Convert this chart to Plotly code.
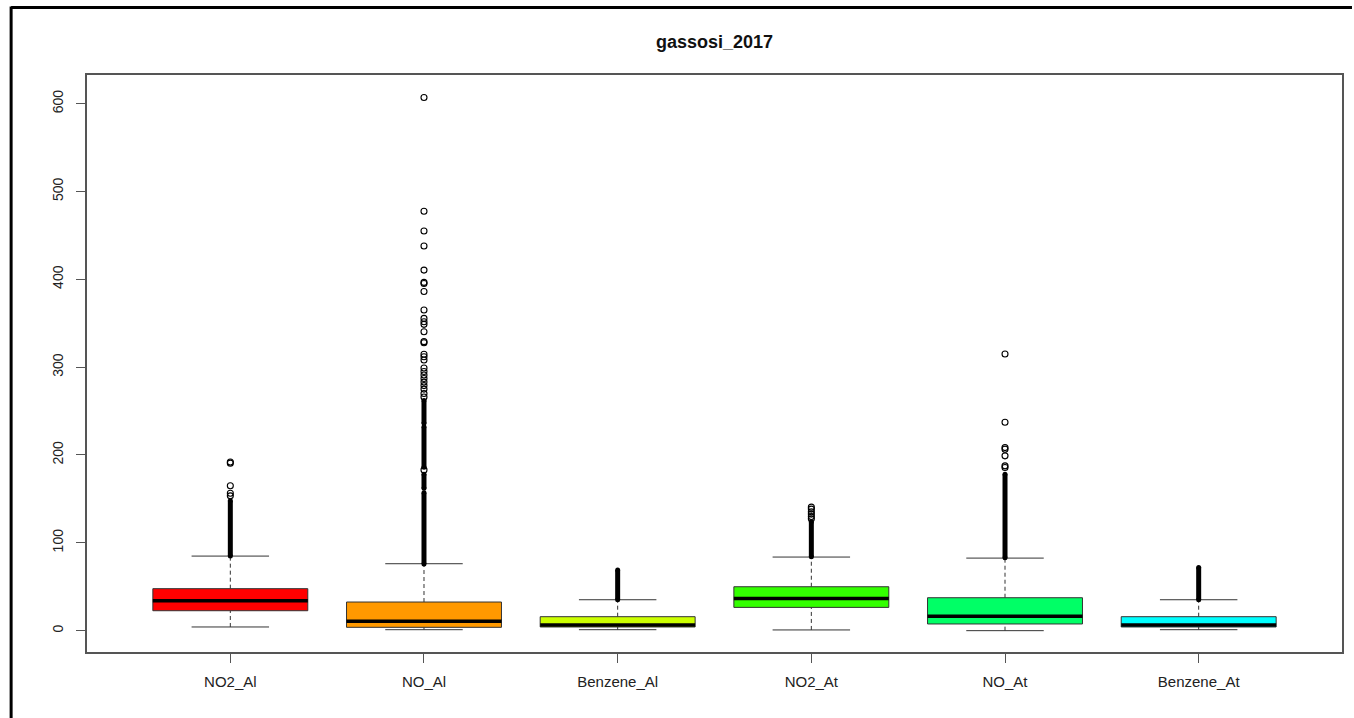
import plotly.graph_objects as go

# Summary statistics per station / pollutant (gassosi 2017)
categories = ["NO2_Al", "NO_Al", "Benzene_Al", "NO2_At", "NO_At", "Benzene_At"]
colors = ["#FF0000", "#FF9900", "#CCFF00", "#33FF00", "#00FF66", "#00FFFF"]

lower_whisker = [4.2, 1.1, 1.1, 0.8, 0.0, 1.1]
q1 = [22.7, 3.8, 4.2, 26.5, 7.6, 4.2]
median = [34.1, 10.6, 6.5, 36.7, 16.3, 6.5]
q3 = [47.8, 32.6, 15.9, 50.0, 37.5, 15.9]
upper_whisker = [84.9, 76.2, 35.2, 83.8, 82.6, 35.2]

# Runs of outliers packed so tightly they merge into a solid column (low, high)
dense_outliers = [
    [(85, 148)],
    [(76, 157), (162, 178), (186, 232), (236, 262)],
    [(35.2, 69)],
    [(84, 124)],
    [(83, 178)],
    [(35.2, 72)],
]

# Individually visible outliers
outliers = [
    [153.5, 156.5, 165, 190.7, 192],
    [183, 266, 270, 275, 279, 283, 287, 291, 295, 299, 308.1, 311.9, 314.6,
     327.8, 329, 340.3, 348.7, 351.7, 355.5, 365, 386.2, 395.3, 396.5,
     410.5, 438, 455, 477.5, 607],
    [],
    [127.3, 130, 132.7, 135.3, 138.4, 140.6],
    [185.7, 187.6, 199, 206.6, 208.4, 237.3, 315],
    [],
]

BOX_HALF = 0.4
CAP_HALF = 0.2
EDGE = "#333333"

fig = go.Figure()

for i, name in enumerate(categories):
    x = i + 1
    # dashed whiskers
    for lo, hi in ((lower_whisker[i], q1[i]), (q3[i], upper_whisker[i])):
        fig.add_trace(go.Scatter(x=[x, x], y=[lo, hi], mode="lines",
                                 line=dict(color=EDGE, width=1, dash="4px,3px"),
                                 hoverinfo="skip", showlegend=False))
    # whisker caps
    for v in (lower_whisker[i], upper_whisker[i]):
        fig.add_trace(go.Scatter(x=[x - CAP_HALF, x + CAP_HALF], y=[v, v], mode="lines",
                                 line=dict(color=EDGE, width=1),
                                 hoverinfo="skip", showlegend=False))
    # box
    fig.add_trace(go.Scatter(
        x=[x - BOX_HALF, x + BOX_HALF, x + BOX_HALF, x - BOX_HALF, x - BOX_HALF],
        y=[q1[i], q1[i], q3[i], q3[i], q1[i]],
        mode="lines", fill="toself", fillcolor=colors[i],
        line=dict(color=EDGE, width=1), name=name, showlegend=False))
    # median
    fig.add_trace(go.Scatter(x=[x - BOX_HALF, x + BOX_HALF], y=[median[i], median[i]],
                             mode="lines", line=dict(color="black", width=3.5),
                             hoverinfo="skip", showlegend=False))
    # merged outlier columns
    for lo, hi in dense_outliers[i]:
        fig.add_trace(go.Scatter(x=[x, x], y=[lo, hi], mode="lines+markers",
                                 line=dict(color="black", width=5),
                                 marker=dict(symbol="circle", size=5, color="black"),
                                 hoverinfo="skip", showlegend=False))
    # single outliers
    if outliers[i]:
        fig.add_trace(go.Scatter(x=[x] * len(outliers[i]), y=outliers[i], mode="markers",
                                 marker=dict(symbol="circle-open", size=6,
                                             color="black", line=dict(width=1.1)),
                                 showlegend=False, name=name))

# plot frame geometry (pixels) used to place the page border
W, H = 1354, 718
L, R, T, B = 87, 10, 75, 66
pw, ph = W - L - R, H - T - B


def px_x(p):
    return (p - L) / pw


def px_y(p):
    return (H - B - p) / ph


fig.add_shape(type="line", xref="paper", yref="paper",
              x0=px_x(11), x1=px_x(11), y0=px_y(H), y1=px_y(6.5),
              line=dict(color="black", width=3))
fig.add_shape(type="line", xref="paper", yref="paper",
              x0=px_x(11), x1=px_x(W), y0=px_y(7.5), y1=px_y(7.5),
              line=dict(color="black", width=3))

fig.update_layout(
    width=W, height=H,
    margin=dict(l=L, r=R, t=T, b=B),
    plot_bgcolor="white", paper_bgcolor="white",
    font=dict(family="Liberation Sans, Arial, sans-serif", color="#222222"),
    title=dict(text="gassosi_2017", x=0.5, xref="paper", xanchor="center",
               y=1 - 42 / H, yref="container", yanchor="middle",
               font=dict(size=18, color="#111111", weight="bold")),
    xaxis=dict(range=[0.26, 6.74], tickvals=list(range(1, len(categories) + 1)),
               ticktext=categories, ticks="outside", ticklen=9, tickcolor="#555555",
               showgrid=False, zeroline=False, showline=True, linecolor="#555555",
               linewidth=1.5, mirror=True, tickfont=dict(size=15),
               ticklabelstandoff=6),
    yaxis=dict(range=[-24.3, 632.6], tickvals=[0, 100, 200, 300, 400, 500, 600],
               ticks="outside", ticklen=9, tickcolor="#555555", tickangle=-90,
               showgrid=False, zeroline=False, showline=True, linecolor="#555555",
               linewidth=1.5, mirror=True, tickfont=dict(size=14),
               ticklabelstandoff=8),
)

fig.write_html("out.html")
